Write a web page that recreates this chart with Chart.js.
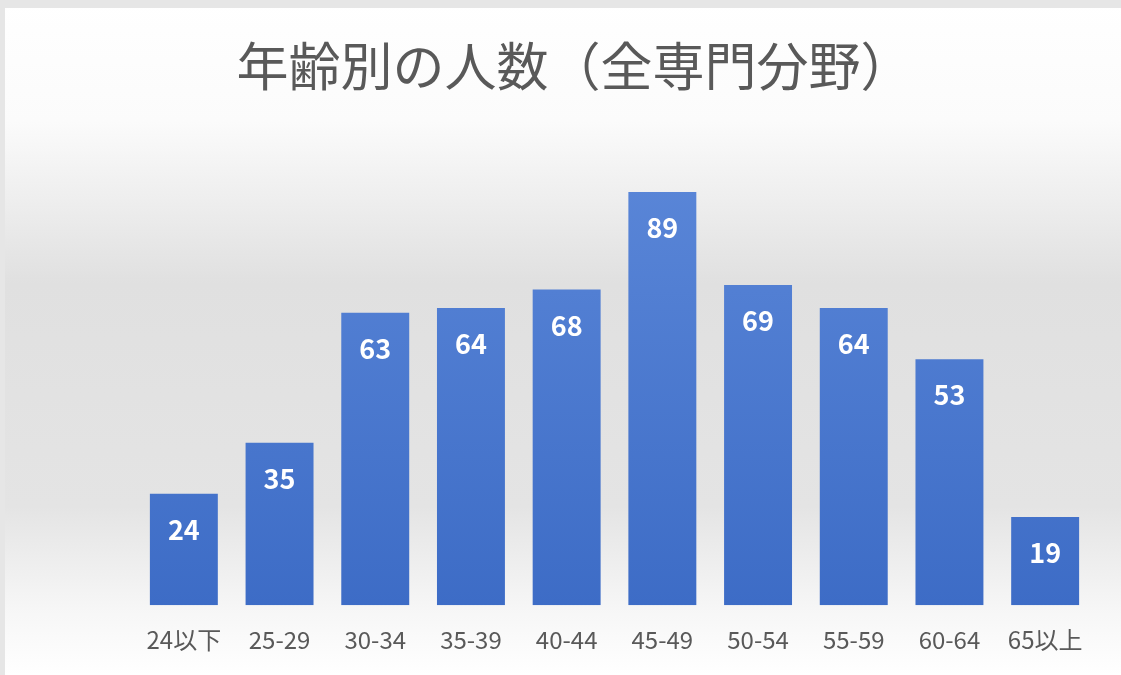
<!DOCTYPE html>
<html>
<head>
<meta charset="utf-8">
<script src="https://cdn.jsdelivr.net/npm/chart.js@4"></script>
<style>
  html, body { margin: 0; padding: 0; background: #ffffff; }
  #wrap { width: 1121px; height: 675px; }
</style>
</head>
<body>
<div id="wrap"><canvas id="ageChart" width="1121" height="675"></canvas></div>
<script>
const titleText = '年齢別の人数（全専門分野）';
const ageGroups = ['24以下', '25-29', '30-34', '35-39', '40-44', '45-49', '50-54', '55-59', '60-64', '65以上'];
const headcount = [24, 35, 63, 64, 68, 89, 69, 64, 53, 19];

const FONT = '"Noto Sans CJK JP", "Noto Sans", sans-serif';

// soft grey backdrop behind the whole chart
const backdrop = {
  id: 'backdrop',
  beforeDraw(chart) {
    const { ctx, width, height } = chart;
    ctx.save();
    const g = ctx.createLinearGradient(0, 0, 0, height);
    g.addColorStop(0.0, '#ffffff');
    g.addColorStop(0.18, '#fbfbfb');
    g.addColorStop(0.42, '#e0e0e0');
    g.addColorStop(0.75, '#e4e4e4');
    g.addColorStop(0.9, '#f6f6f6');
    g.addColorStop(1.0, '#ffffff');
    ctx.fillStyle = g;
    ctx.fillRect(0, 0, width, height);
    // thin frame along the top and left
    ctx.fillStyle = '#e6e6e6';
    ctx.fillRect(0, 0, width, 8);
    ctx.fillRect(0, 0, 5, height);
    ctx.restore();
  }
};

// title centred on the whole canvas, not only the plot area
const chartTitle = {
  id: 'chartTitle',
  afterDraw(chart) {
    const { ctx, width } = chart;
    ctx.save();
    ctx.font = '52px ' + FONT;
    ctx.fillStyle = '#595959';
    ctx.textAlign = 'center';
    ctx.textBaseline = 'middle';
    ctx.fillText(titleText, width / 2 + 14, 66);
    ctx.restore();
  }
};

// value printed in white near the top of each bar
const barValues = {
  id: 'barValues',
  afterDatasetsDraw(chart) {
    const { ctx } = chart;
    const meta = chart.getDatasetMeta(0);
    ctx.save();
    ctx.font = 'bold 27px ' + FONT;
    ctx.fillStyle = '#ffffff';
    ctx.textAlign = 'center';
    ctx.textBaseline = 'middle';
    meta.data.forEach((bar, i) => {
      ctx.fillText(String(headcount[i]), bar.x, bar.y + 36);
    });
    ctx.restore();
  }
};

new Chart(document.getElementById('ageChart'), {
  type: 'bar',
  data: {
    labels: ageGroups,
    datasets: [{
      data: headcount,
      backgroundColor: (context) => {
        const area = context.chart.chartArea;
        if (!area) return '#4a78cf';
        const g = context.chart.ctx.createLinearGradient(0, area.top, 0, area.bottom);
        g.addColorStop(0, '#5c88d9');
        g.addColorStop(1, '#3d6cc6');
        return g;
      },
      borderWidth: 0,
      categoryPercentage: 1,
      barPercentage: 0.71
    }]
  },
  options: {
    responsive: false,
    animation: false,
    layout: { padding: { left: 136, right: 28, top: 141, bottom: 9 } },
    plugins: {
      legend: { display: false },
      tooltip: { enabled: false },
      title: { display: false }
    },
    scales: {
      x: {
        grid: { display: false },
        border: { display: false },
        ticks: {
          color: '#595959',
          font: { family: FONT, size: 24 },
          padding: 12
        }
      },
      y: {
        display: false,
        min: 0,
        max: 100
      }
    }
  },
  plugins: [backdrop, barValues, chartTitle]
});
</script>
</body>
</html>
